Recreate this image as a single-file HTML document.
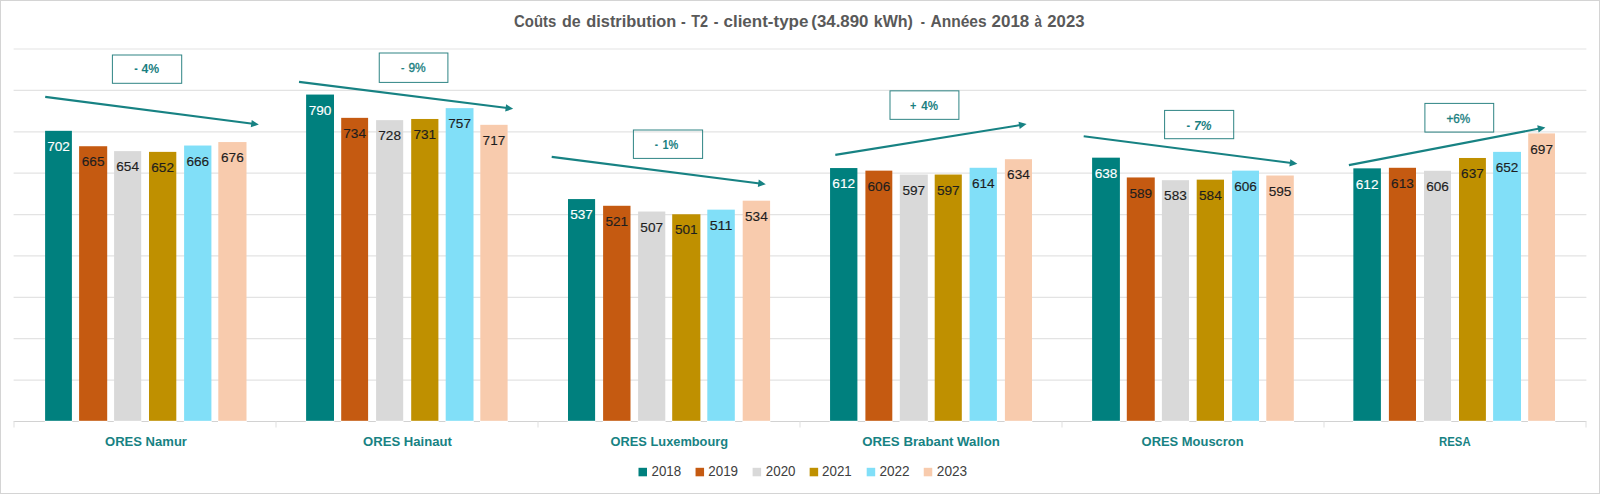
<!DOCTYPE html><html><head><meta charset="utf-8"><title>Chart</title><style>html,body{margin:0;padding:0;background:#fff}svg{display:block}text{font-family:"Liberation Sans",sans-serif}</style></head><body>
<svg width="1600" height="494" viewBox="0 0 1600 494">
<rect x="0" y="0" width="1600" height="494" fill="#fff"/>
<rect x="0.5" y="0.5" width="1599" height="493" fill="none" stroke="#D4D4D4" stroke-width="1"/>
<line x1="13.6" x2="1586.4" y1="421.50" y2="421.50" stroke="#D2D2D2" stroke-width="1.2"/>
<line x1="13.6" x2="1586.4" y1="380.11" y2="380.11" stroke="#E3E3E3" stroke-width="1.2"/>
<line x1="13.6" x2="1586.4" y1="338.72" y2="338.72" stroke="#E3E3E3" stroke-width="1.2"/>
<line x1="13.6" x2="1586.4" y1="297.33" y2="297.33" stroke="#E3E3E3" stroke-width="1.2"/>
<line x1="13.6" x2="1586.4" y1="255.94" y2="255.94" stroke="#E3E3E3" stroke-width="1.2"/>
<line x1="13.6" x2="1586.4" y1="214.56" y2="214.56" stroke="#E3E3E3" stroke-width="1.2"/>
<line x1="13.6" x2="1586.4" y1="173.17" y2="173.17" stroke="#E3E3E3" stroke-width="1.2"/>
<line x1="13.6" x2="1586.4" y1="131.78" y2="131.78" stroke="#E3E3E3" stroke-width="1.2"/>
<line x1="13.6" x2="1586.4" y1="90.39" y2="90.39" stroke="#E3E3E3" stroke-width="1.2"/>
<line x1="13.6" x2="1586.4" y1="49.00" y2="49.00" stroke="#E3E3E3" stroke-width="1.2"/>
<line x1="14.0" x2="14.0" y1="421.5" y2="427.5" stroke="#E4E4E4" stroke-width="1.2"/>
<line x1="276.0" x2="276.0" y1="421.5" y2="427.5" stroke="#E4E4E4" stroke-width="1.2"/>
<line x1="538.0" x2="538.0" y1="421.5" y2="427.5" stroke="#E4E4E4" stroke-width="1.2"/>
<line x1="800.0" x2="800.0" y1="421.5" y2="427.5" stroke="#E4E4E4" stroke-width="1.2"/>
<line x1="1062.0" x2="1062.0" y1="421.5" y2="427.5" stroke="#E4E4E4" stroke-width="1.2"/>
<line x1="1324.0" x2="1324.0" y1="421.5" y2="427.5" stroke="#E4E4E4" stroke-width="1.2"/>
<line x1="1586.0" x2="1586.0" y1="421.5" y2="427.5" stroke="#E4E4E4" stroke-width="1.2"/>
<rect x="45.10" y="130.83" width="26.80" height="290.07" fill="#00807E"/>
<rect x="44.80" y="420.90" width="27.40" height="1.5" fill="#fff"/>
<text x="58.50" y="151.03" font-size="13.5" text-anchor="middle" fill="#FFFFFF" stroke="#FFFFFF" stroke-width="0.15" textLength="22.7" lengthAdjust="spacingAndGlyphs">702</text>
<rect x="79.10" y="146.23" width="28.10" height="274.67" fill="#C55A11"/>
<rect x="78.80" y="420.90" width="28.70" height="1.5" fill="#fff"/>
<text x="93.15" y="166.43" font-size="13.5" text-anchor="middle" fill="#1E1E1E" stroke="#1E1E1E" stroke-width="0.15" textLength="22.7" lengthAdjust="spacingAndGlyphs">665</text>
<rect x="114.10" y="151.11" width="27.10" height="269.79" fill="#D9D9D9"/>
<rect x="113.80" y="420.90" width="27.70" height="1.5" fill="#fff"/>
<text x="127.65" y="171.31" font-size="13.5" text-anchor="middle" fill="#1E1E1E" stroke="#1E1E1E" stroke-width="0.15" textLength="22.7" lengthAdjust="spacingAndGlyphs">654</text>
<rect x="149.00" y="151.87" width="27.30" height="269.03" fill="#BF9000"/>
<rect x="148.70" y="420.90" width="27.90" height="1.5" fill="#fff"/>
<text x="162.65" y="172.07" font-size="13.5" text-anchor="middle" fill="#1E1E1E" stroke="#1E1E1E" stroke-width="0.15" textLength="22.7" lengthAdjust="spacingAndGlyphs">652</text>
<rect x="184.10" y="145.53" width="27.30" height="275.38" fill="#81DFF8"/>
<rect x="183.80" y="420.90" width="27.90" height="1.5" fill="#fff"/>
<text x="197.75" y="165.72" font-size="13.5" text-anchor="middle" fill="#1E1E1E" stroke="#1E1E1E" stroke-width="0.15" textLength="22.7" lengthAdjust="spacingAndGlyphs">666</text>
<rect x="218.30" y="142.06" width="28.20" height="278.84" fill="#F8CBAD"/>
<rect x="218.00" y="420.90" width="28.80" height="1.5" fill="#fff"/>
<text x="232.40" y="162.26" font-size="13.5" text-anchor="middle" fill="#1E1E1E" stroke="#1E1E1E" stroke-width="0.15" textLength="22.7" lengthAdjust="spacingAndGlyphs">676</text>
<rect x="306.10" y="94.56" width="27.90" height="326.34" fill="#00807E"/>
<rect x="305.80" y="420.90" width="28.50" height="1.5" fill="#fff"/>
<text x="320.05" y="114.76" font-size="13.5" text-anchor="middle" fill="#FFFFFF" stroke="#FFFFFF" stroke-width="0.15" textLength="22.7" lengthAdjust="spacingAndGlyphs">790</text>
<rect x="341.20" y="117.85" width="26.90" height="303.05" fill="#C55A11"/>
<rect x="340.90" y="420.90" width="27.50" height="1.5" fill="#fff"/>
<text x="354.65" y="138.05" font-size="13.5" text-anchor="middle" fill="#1E1E1E" stroke="#1E1E1E" stroke-width="0.15" textLength="22.7" lengthAdjust="spacingAndGlyphs">734</text>
<rect x="376.10" y="120.14" width="27.10" height="300.76" fill="#D9D9D9"/>
<rect x="375.80" y="420.90" width="27.70" height="1.5" fill="#fff"/>
<text x="389.65" y="140.34" font-size="13.5" text-anchor="middle" fill="#1E1E1E" stroke="#1E1E1E" stroke-width="0.15" textLength="22.7" lengthAdjust="spacingAndGlyphs">728</text>
<rect x="411.20" y="118.97" width="27.20" height="301.93" fill="#BF9000"/>
<rect x="410.90" y="420.90" width="27.80" height="1.5" fill="#fff"/>
<text x="424.80" y="139.17" font-size="13.5" text-anchor="middle" fill="#1E1E1E" stroke="#1E1E1E" stroke-width="0.15" textLength="22.7" lengthAdjust="spacingAndGlyphs">731</text>
<rect x="445.70" y="108.14" width="27.80" height="312.76" fill="#81DFF8"/>
<rect x="445.40" y="420.90" width="28.40" height="1.5" fill="#fff"/>
<text x="459.60" y="128.34" font-size="13.5" text-anchor="middle" fill="#1E1E1E" stroke="#1E1E1E" stroke-width="0.15" textLength="22.7" lengthAdjust="spacingAndGlyphs">757</text>
<rect x="480.30" y="124.82" width="27.30" height="296.08" fill="#F8CBAD"/>
<rect x="480.00" y="420.90" width="27.90" height="1.5" fill="#fff"/>
<text x="493.95" y="145.02" font-size="13.5" text-anchor="middle" fill="#1E1E1E" stroke="#1E1E1E" stroke-width="0.15" textLength="22.7" lengthAdjust="spacingAndGlyphs">717</text>
<rect x="568.00" y="199.07" width="27.10" height="221.83" fill="#00807E"/>
<rect x="567.70" y="420.90" width="27.70" height="1.5" fill="#fff"/>
<text x="581.55" y="219.27" font-size="13.5" text-anchor="middle" fill="#FFFFFF" stroke="#FFFFFF" stroke-width="0.15" textLength="22.7" lengthAdjust="spacingAndGlyphs">537</text>
<rect x="603.10" y="205.78" width="27.40" height="215.12" fill="#C55A11"/>
<rect x="602.80" y="420.90" width="28.00" height="1.5" fill="#fff"/>
<text x="616.80" y="225.98" font-size="13.5" text-anchor="middle" fill="#1E1E1E" stroke="#1E1E1E" stroke-width="0.15" textLength="22.7" lengthAdjust="spacingAndGlyphs">521</text>
<rect x="638.10" y="211.53" width="27.20" height="209.37" fill="#D9D9D9"/>
<rect x="637.80" y="420.90" width="27.80" height="1.5" fill="#fff"/>
<text x="651.70" y="231.73" font-size="13.5" text-anchor="middle" fill="#1E1E1E" stroke="#1E1E1E" stroke-width="0.15" textLength="22.7" lengthAdjust="spacingAndGlyphs">507</text>
<rect x="672.20" y="214.27" width="28.20" height="206.63" fill="#BF9000"/>
<rect x="671.90" y="420.90" width="28.80" height="1.5" fill="#fff"/>
<text x="686.30" y="234.47" font-size="13.5" text-anchor="middle" fill="#1E1E1E" stroke="#1E1E1E" stroke-width="0.15" textLength="22.7" lengthAdjust="spacingAndGlyphs">501</text>
<rect x="707.30" y="209.65" width="27.50" height="211.25" fill="#81DFF8"/>
<rect x="707.00" y="420.90" width="28.10" height="1.5" fill="#fff"/>
<text x="721.05" y="229.85" font-size="13.5" text-anchor="middle" fill="#1E1E1E" stroke="#1E1E1E" stroke-width="0.15" textLength="22.7" lengthAdjust="spacingAndGlyphs">511</text>
<rect x="742.70" y="200.69" width="27.40" height="220.21" fill="#F8CBAD"/>
<rect x="742.40" y="420.90" width="28.00" height="1.5" fill="#fff"/>
<text x="756.40" y="220.89" font-size="13.5" text-anchor="middle" fill="#1E1E1E" stroke="#1E1E1E" stroke-width="0.15" textLength="22.7" lengthAdjust="spacingAndGlyphs">534</text>
<rect x="830.05" y="168.05" width="27.35" height="252.85" fill="#00807E"/>
<rect x="829.75" y="420.90" width="27.95" height="1.5" fill="#fff"/>
<text x="843.72" y="188.25" font-size="13.5" text-anchor="middle" fill="#FFFFFF" stroke="#FFFFFF" stroke-width="0.15" textLength="22.7" lengthAdjust="spacingAndGlyphs">612</text>
<rect x="865.40" y="170.64" width="26.90" height="250.26" fill="#C55A11"/>
<rect x="865.10" y="420.90" width="27.50" height="1.5" fill="#fff"/>
<text x="878.85" y="190.84" font-size="13.5" text-anchor="middle" fill="#1E1E1E" stroke="#1E1E1E" stroke-width="0.15" textLength="22.7" lengthAdjust="spacingAndGlyphs">606</text>
<rect x="899.80" y="174.55" width="28.00" height="246.35" fill="#D9D9D9"/>
<rect x="899.50" y="420.90" width="28.60" height="1.5" fill="#fff"/>
<text x="913.80" y="194.75" font-size="13.5" text-anchor="middle" fill="#1E1E1E" stroke="#1E1E1E" stroke-width="0.15" textLength="22.7" lengthAdjust="spacingAndGlyphs">597</text>
<rect x="934.70" y="174.55" width="27.10" height="246.35" fill="#BF9000"/>
<rect x="934.40" y="420.90" width="27.70" height="1.5" fill="#fff"/>
<text x="948.25" y="194.75" font-size="13.5" text-anchor="middle" fill="#1E1E1E" stroke="#1E1E1E" stroke-width="0.15" textLength="22.7" lengthAdjust="spacingAndGlyphs">597</text>
<rect x="969.60" y="167.79" width="27.30" height="253.11" fill="#81DFF8"/>
<rect x="969.30" y="420.90" width="27.90" height="1.5" fill="#fff"/>
<text x="983.25" y="187.99" font-size="13.5" text-anchor="middle" fill="#1E1E1E" stroke="#1E1E1E" stroke-width="0.15" textLength="22.7" lengthAdjust="spacingAndGlyphs">614</text>
<rect x="1004.90" y="159.20" width="27.10" height="261.70" fill="#F8CBAD"/>
<rect x="1004.60" y="420.90" width="27.70" height="1.5" fill="#fff"/>
<text x="1018.45" y="179.40" font-size="13.5" text-anchor="middle" fill="#1E1E1E" stroke="#1E1E1E" stroke-width="0.15" textLength="22.7" lengthAdjust="spacingAndGlyphs">634</text>
<rect x="1092.10" y="157.67" width="27.80" height="263.23" fill="#00807E"/>
<rect x="1091.80" y="420.90" width="28.40" height="1.5" fill="#fff"/>
<text x="1106.00" y="177.87" font-size="13.5" text-anchor="middle" fill="#FFFFFF" stroke="#FFFFFF" stroke-width="0.15" textLength="22.7" lengthAdjust="spacingAndGlyphs">638</text>
<rect x="1126.80" y="177.46" width="27.95" height="243.44" fill="#C55A11"/>
<rect x="1126.50" y="420.90" width="28.55" height="1.5" fill="#fff"/>
<text x="1140.78" y="197.66" font-size="13.5" text-anchor="middle" fill="#1E1E1E" stroke="#1E1E1E" stroke-width="0.15" textLength="22.7" lengthAdjust="spacingAndGlyphs">589</text>
<rect x="1161.90" y="180.20" width="27.10" height="240.70" fill="#D9D9D9"/>
<rect x="1161.60" y="420.90" width="27.70" height="1.5" fill="#fff"/>
<text x="1175.45" y="200.40" font-size="13.5" text-anchor="middle" fill="#1E1E1E" stroke="#1E1E1E" stroke-width="0.15" textLength="22.7" lengthAdjust="spacingAndGlyphs">583</text>
<rect x="1196.70" y="179.64" width="27.30" height="241.26" fill="#BF9000"/>
<rect x="1196.40" y="420.90" width="27.90" height="1.5" fill="#fff"/>
<text x="1210.35" y="199.84" font-size="13.5" text-anchor="middle" fill="#1E1E1E" stroke="#1E1E1E" stroke-width="0.15" textLength="22.7" lengthAdjust="spacingAndGlyphs">584</text>
<rect x="1232.10" y="170.64" width="26.90" height="250.26" fill="#81DFF8"/>
<rect x="1231.80" y="420.90" width="27.50" height="1.5" fill="#fff"/>
<text x="1245.55" y="190.84" font-size="13.5" text-anchor="middle" fill="#1E1E1E" stroke="#1E1E1E" stroke-width="0.15" textLength="22.7" lengthAdjust="spacingAndGlyphs">606</text>
<rect x="1266.30" y="175.52" width="27.50" height="245.38" fill="#F8CBAD"/>
<rect x="1266.00" y="420.90" width="28.10" height="1.5" fill="#fff"/>
<text x="1280.05" y="195.72" font-size="13.5" text-anchor="middle" fill="#1E1E1E" stroke="#1E1E1E" stroke-width="0.15" textLength="22.7" lengthAdjust="spacingAndGlyphs">595</text>
<rect x="1353.35" y="168.35" width="27.55" height="252.55" fill="#00807E"/>
<rect x="1353.05" y="420.90" width="28.15" height="1.5" fill="#fff"/>
<text x="1367.12" y="188.55" font-size="13.5" text-anchor="middle" fill="#FFFFFF" stroke="#FFFFFF" stroke-width="0.15" textLength="22.7" lengthAdjust="spacingAndGlyphs">612</text>
<rect x="1388.90" y="167.79" width="27.10" height="253.11" fill="#C55A11"/>
<rect x="1388.60" y="420.90" width="27.70" height="1.5" fill="#fff"/>
<text x="1402.45" y="187.99" font-size="13.5" text-anchor="middle" fill="#1E1E1E" stroke="#1E1E1E" stroke-width="0.15" textLength="22.7" lengthAdjust="spacingAndGlyphs">613</text>
<rect x="1424.00" y="170.79" width="27.00" height="250.11" fill="#D9D9D9"/>
<rect x="1423.70" y="420.90" width="27.60" height="1.5" fill="#fff"/>
<text x="1437.50" y="190.99" font-size="13.5" text-anchor="middle" fill="#1E1E1E" stroke="#1E1E1E" stroke-width="0.15" textLength="22.7" lengthAdjust="spacingAndGlyphs">606</text>
<rect x="1459.00" y="157.98" width="26.90" height="262.92" fill="#BF9000"/>
<rect x="1458.70" y="420.90" width="27.50" height="1.5" fill="#fff"/>
<text x="1472.45" y="178.18" font-size="13.5" text-anchor="middle" fill="#1E1E1E" stroke="#1E1E1E" stroke-width="0.15" textLength="22.7" lengthAdjust="spacingAndGlyphs">637</text>
<rect x="1493.10" y="151.87" width="27.90" height="269.03" fill="#81DFF8"/>
<rect x="1492.80" y="420.90" width="28.50" height="1.5" fill="#fff"/>
<text x="1507.05" y="172.07" font-size="13.5" text-anchor="middle" fill="#1E1E1E" stroke="#1E1E1E" stroke-width="0.15" textLength="22.7" lengthAdjust="spacingAndGlyphs">652</text>
<rect x="1528.20" y="133.41" width="26.80" height="287.49" fill="#F8CBAD"/>
<rect x="1527.90" y="420.90" width="27.40" height="1.5" fill="#fff"/>
<text x="1541.60" y="153.61" font-size="13.5" text-anchor="middle" fill="#1E1E1E" stroke="#1E1E1E" stroke-width="0.15" textLength="22.7" lengthAdjust="spacingAndGlyphs">697</text>
<line x1="45.2" y1="96.9" x2="252.85" y2="123.83" stroke="#178283" stroke-width="2.1"/>
<path d="M258.80,124.60 L250.79,127.29 L251.74,119.95 Z" fill="#178283"/>
<line x1="299" y1="81.9" x2="507.25" y2="108.05" stroke="#178283" stroke-width="2.1"/>
<path d="M513.20,108.80 L505.20,111.52 L506.12,104.18 Z" fill="#178283"/>
<line x1="551.7" y1="156.9" x2="759.85" y2="183.44" stroke="#178283" stroke-width="2.1"/>
<path d="M765.80,184.20 L757.79,186.91 L758.73,179.57 Z" fill="#178283"/>
<line x1="835.3" y1="154.9" x2="1020.68" y2="125.05" stroke="#178283" stroke-width="2.1"/>
<path d="M1026.60,124.10 L1019.68,128.96 L1018.51,121.66 Z" fill="#178283"/>
<line x1="1083.7" y1="136.3" x2="1291.45" y2="163.03" stroke="#178283" stroke-width="2.1"/>
<path d="M1297.40,163.80 L1289.39,166.50 L1290.33,159.16 Z" fill="#178283"/>
<line x1="1348.9" y1="165.1" x2="1539.51" y2="128.53" stroke="#178283" stroke-width="2.1"/>
<path d="M1545.40,127.40 L1538.63,132.47 L1537.24,125.20 Z" fill="#178283"/>
<rect x="112.4" y="55.0" width="69.30" height="28.30" fill="none" stroke="#2E8484" stroke-width="1"/>
<rect x="379.25" y="53.0" width="68.65" height="29.40" fill="none" stroke="#2E8484" stroke-width="1"/>
<rect x="633.4" y="130.0" width="69.20" height="28.40" fill="none" stroke="#2E8484" stroke-width="1"/>
<rect x="890.0" y="90.85" width="68.90" height="28.50" fill="none" stroke="#2E8484" stroke-width="1"/>
<rect x="1164.6" y="110.4" width="69.10" height="28.30" fill="none" stroke="#2E8484" stroke-width="1"/>
<rect x="1424.9" y="103.4" width="68.80" height="28.70" fill="none" stroke="#2E8484" stroke-width="1"/>
<text transform="translate(134.20,72.9) scale(0.8224,1)" font-size="12.8" font-weight="bold" fill="#1A8081" >-</text>
<text transform="translate(141.50,72.9) scale(0.9570,1)" font-size="12.8" font-weight="bold" fill="#1A8081" >4%</text>
<text transform="translate(400.95,71.9) scale(0.7989,1)" font-size="12.8" font-weight="normal" fill="#1A8081" stroke="#1A8081" stroke-width="0.35">-</text>
<text transform="translate(408.40,71.9) scale(0.9353,1)" font-size="12.8" font-weight="normal" fill="#1A8081" stroke="#1A8081" stroke-width="0.35">9%</text>
<text transform="translate(654.80,148.8) scale(0.7636,1)" font-size="12.8" font-weight="bold" fill="#1A8081" >-</text>
<text transform="translate(662.40,148.8) scale(0.8596,1)" font-size="12.8" font-weight="bold" fill="#1A8081" >1%</text>
<text transform="translate(910.00,110.0) scale(0.8547,1)" font-size="12.8" font-weight="bold" fill="#1A8081" >+</text>
<text transform="translate(921.30,110.0) scale(0.9029,1)" font-size="12.8" font-weight="bold" fill="#1A8081" >4%</text>
<text transform="translate(1186.40,129.5) scale(0.8459,1)" font-size="12.8" font-weight="bold" fill="#1A8081" >-</text>
<text transform="translate(1194.00,129.5) scale(0.9462,1)" font-size="12.8" font-weight="bold" fill="#1A8081"  font-style="italic">7%</text>
<text transform="translate(1446.40,122.9) scale(0.9159,1)" font-size="12.8" font-weight="normal" fill="#1A8081" stroke="#1A8081" stroke-width="0.35">+6%</text>
<text transform="translate(105.00,445.8) scale(0.9744,1)" font-size="13.4" font-weight="bold" fill="#178283" >ORES Namur</text>
<text transform="translate(363.00,445.8) scale(0.9796,1)" font-size="13.4" font-weight="bold" fill="#178283" >ORES Hainaut</text>
<text transform="translate(610.60,445.8) scale(0.9565,1)" font-size="13.4" font-weight="bold" fill="#178283" >ORES Luxembourg</text>
<text transform="translate(862.20,445.8) scale(0.9881,1)" font-size="13.4" font-weight="bold" fill="#178283" >ORES Brabant Wallon</text>
<text transform="translate(1141.60,445.8) scale(0.9662,1)" font-size="13.4" font-weight="bold" fill="#178283" >ORES Mouscron</text>
<text transform="translate(1439.10,445.8) scale(0.8464,1)" font-size="13.4" font-weight="bold" fill="#178283" >RESA</text>
<rect x="638.50" y="467.8" width="8.5" height="8.5" fill="#00807E"/>
<rect x="695.55" y="467.8" width="8.5" height="8.5" fill="#C55A11"/>
<rect x="752.60" y="467.8" width="8.5" height="8.5" fill="#D9D9D9"/>
<rect x="809.65" y="467.8" width="8.5" height="8.5" fill="#BF9000"/>
<rect x="866.70" y="467.8" width="8.5" height="8.5" fill="#81DFF8"/>
<rect x="923.75" y="467.8" width="8.5" height="8.5" fill="#F8CBAD"/>
<text transform="translate(651.50,476.2) scale(0.9400,1)" font-size="14.2" font-weight="normal" fill="#404040" >2018</text>
<text transform="translate(708.20,476.2) scale(0.9464,1)" font-size="14.2" font-weight="normal" fill="#404040" >2019</text>
<text transform="translate(765.80,476.2) scale(0.9400,1)" font-size="14.2" font-weight="normal" fill="#404040" >2020</text>
<text transform="translate(822.10,476.2) scale(0.9400,1)" font-size="14.2" font-weight="normal" fill="#404040" >2021</text>
<text transform="translate(879.40,476.2) scale(0.9558,1)" font-size="14.2" font-weight="normal" fill="#404040" >2022</text>
<text transform="translate(936.80,476.2) scale(0.9622,1)" font-size="14.2" font-weight="normal" fill="#404040" >2023</text>
<text transform="translate(514.06,27.2) scale(0.9082,1)" font-size="16.4" font-weight="bold" fill="#595959" >Coûts</text>
<text transform="translate(561.90,27.2) scale(0.9767,1)" font-size="16.4" font-weight="bold" fill="#595959" >de</text>
<text transform="translate(586.25,27.2) scale(0.9978,1)" font-size="16.4" font-weight="bold" fill="#595959" >distribution</text>
<text transform="translate(680.90,27.2) scale(0.8619,1)" font-size="16.4" font-weight="bold" fill="#595959" >-</text>
<text transform="translate(691.25,27.2) scale(0.8800,1)" font-size="16.4" font-weight="bold" fill="#595959" >T2</text>
<text transform="translate(713.75,27.2) scale(0.8527,1)" font-size="16.4" font-weight="bold" fill="#595959" >-</text>
<text transform="translate(723.50,27.2) scale(1.0354,1)" font-size="16.4" font-weight="bold" fill="#595959" >client-type</text>
<text transform="translate(811.30,27.2) scale(1.0281,1)" font-size="16.4" font-weight="bold" fill="#595959" >(34.890</text>
<text transform="translate(873.70,27.2) scale(0.9801,1)" font-size="16.4" font-weight="bold" fill="#595959" >kWh)</text>
<text transform="translate(920.80,27.2) scale(0.7702,1)" font-size="16.4" font-weight="bold" fill="#595959" >-</text>
<text transform="translate(930.50,27.2) scale(0.9486,1)" font-size="16.4" font-weight="bold" fill="#595959" >Années</text>
<text transform="translate(991.50,27.2) scale(1.0359,1)" font-size="16.4" font-weight="bold" fill="#595959" >2018</text>
<text transform="translate(1034.50,27.2) scale(0.8057,1)" font-size="16.4" font-weight="bold" fill="#595959" >à</text>
<text transform="translate(1047.30,27.2) scale(1.0195,1)" font-size="16.4" font-weight="bold" fill="#595959" >2023</text>
</svg></body></html>
